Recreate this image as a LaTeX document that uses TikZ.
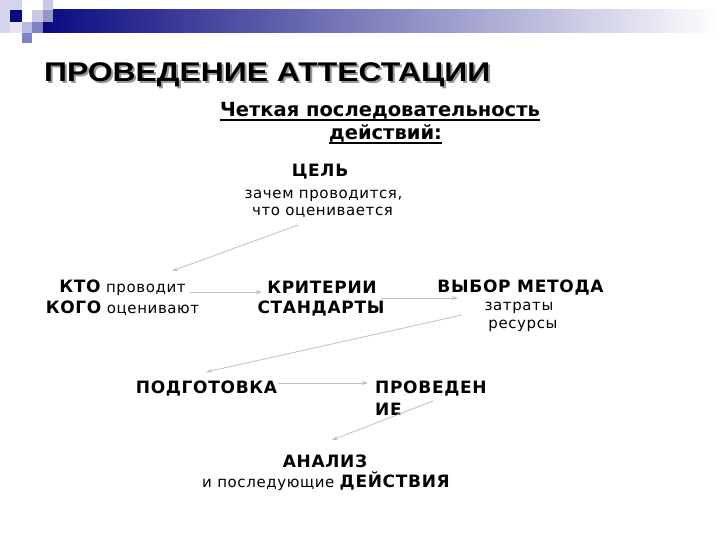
\documentclass[tikz,border=0pt]{standalone}
\usepackage{fontspec}
\usetikzlibrary{arrows.meta}
\setmainfont{DejaVu Sans}
\newfontfamily\djb[LetterSpace=4]{DejaVu Sans}
\newfontfamily\djr[LetterSpace=4]{DejaVu Sans}
\newfontfamily\djsub{DejaVu Sans}
\newfontfamily\ttlfont[FakeStretch=1.18]{Liberation Sans}
\definecolor{navyb}{RGB}{10,10,128}
\definecolor{lav1}{RGB}{212,212,236}
\definecolor{lav2}{RGB}{200,200,232}
\definecolor{lav3}{RGB}{185,185,225}
\definecolor{med1}{RGB}{150,150,205}
\definecolor{med2}{RGB}{128,128,196}
\definecolor{arrowc}{RGB}{190,190,205}
\newcommand{\bwd}[1]{{\djb\bfseries\fontsize{17}{19}\selectfont #1}}
\newcommand{\shadowed}[1]{\rlap{\kern2pt\raisebox{-2pt}{\textcolor{black!40}{#1}}}#1}
\tikzset{
  txt/.style={inner sep=0pt, anchor=base, font=\djr\fontsize{15}{17}\selectfont},
  btxt/.style={inner sep=0pt, anchor=base, font=\djb\bfseries\fontsize{17}{19}\selectfont},
  subtxt/.style={inner sep=0pt, anchor=base, font=\djsub\bfseries\fontsize{19.5}{23}\selectfont},
  flow/.style={draw=arrowc, line width=0.8pt, -{Stealth[length=6pt,width=4pt]}},
}
\begin{document}
\begin{tikzpicture}[x=1pt,y=-1pt]
\useasboundingbox (0,0) rectangle (720,540);
% header decoration
\shade[left color=navyb, right color=white] (43,10) rectangle (720,33);
\fill[lav1] (0,0) rectangle (10,33);
\fill[lav1] (10,0) rectangle (22,10);
\fill[navyb] (10,10) rectangle (22,22);
\fill[lav1!60] (10,22) rectangle (22,33);
\fill[lav2] (32,10) rectangle (43,22);
\fill[lav2] (43,0) rectangle (53,10);
\fill[med1] (43,10) rectangle (53,22);
\fill[lav3] (22,22) rectangle (32,33);
\fill[med2] (32,22) rectangle (43,33);
\fill[med2] (22,33) rectangle (32,43);
% title
\node[inner sep=0pt, anchor=base west, font=\ttlfont\bfseries\fontsize{27}{30}\selectfont] (title) at (44,81.5) {\shadowed{ПРОВЕДЕНИЕ АТТЕСТАЦИИ}};
% subtitle
\node[subtxt] (sub1) at (380,117) {Четкая последовательность};
\node[subtxt] (sub2) at (385.5,140) {действий:};
\draw[line width=1.5pt] ([yshift=-3pt]sub1.base west) -- ([yshift=-3pt]sub1.base east);
\draw[line width=1.5pt] ([yshift=-3pt]sub2.base west) -- ([yshift=-3pt]sub2.base east);
% diagram text
\node[btxt] (goal) at (320,177) {ЦЕЛЬ};
\node[txt] (goal2) at (323.5,199) {зачем проводится,};
\node[txt] (goal3) at (322.5,215.5) {что оценивается};
\node[txt] (who1) at (122.5,292) {\bwd{КТО} проводит};
\node[txt] (who2) at (122.5,313) {\bwd{КОГО} оценивают};
\node[btxt] (crit1) at (322,293) {КРИТЕРИИ};
\node[btxt] (crit2) at (321,313) {СТАНДАРТЫ};
\node[btxt] (meth1) at (520.5,292) {ВЫБОР МЕТОДА};
\node[txt] (meth2) at (519,310) {затраты};
\node[txt] (meth3) at (523,328) {ресурсы};
\node[btxt] (prep) at (206.5,393) {ПОДГОТОВКА};
\node[btxt, anchor=base west] (cond1) at (375,393) {ПРОВЕДЕН};
\node[btxt, anchor=base west] (cond2) at (375,415) {ИЕ};
\node[btxt] (anal1) at (325,467) {АНАЛИЗ};
\node[txt] (anal2) at (326,487) {и последующие \bwd{ДЕЙСТВИЯ}};
% arrow end points
\coordinate (a1s) at (298,225); \coordinate (a1e) at (172,271);
\coordinate (a2s) at (190,292); \coordinate (a2e) at (262,292);
\coordinate (a3s) at (381,298); \coordinate (a3e) at (458,298);
\coordinate (a4s) at (462,315); \coordinate (a4e) at (206,372);
\coordinate (a5s) at (278,383); \coordinate (a5e) at (368,383);
\coordinate (a6s) at (433,401); \coordinate (a6e) at (332,440);
\draw[flow] (a1s) -- (a1e);
\draw[flow] (a2s) -- (a2e);
\draw[flow] (a3s) -- (a3e);
\draw[flow] (a4s) -- (a4e);
\draw[flow] (a5s) -- (a5e);
\draw[flow] (a6s) -- (a6e);
\end{tikzpicture}
\end{document}
